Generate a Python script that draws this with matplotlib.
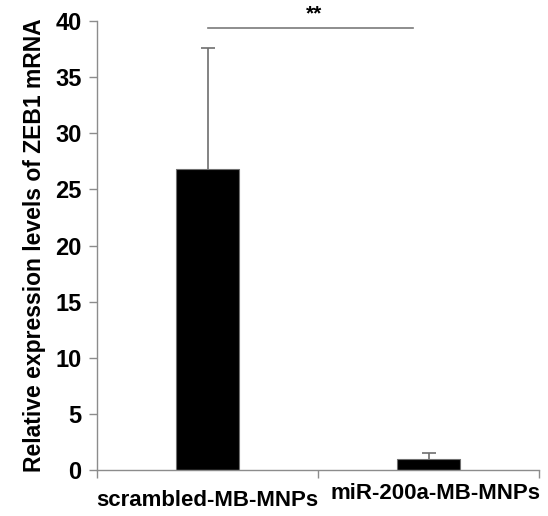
import matplotlib
matplotlib.use("Agg")
import matplotlib.pyplot as plt

categories = ["scrambled-MB-MNPs", "miR-200a-MB-MNPs"]
values = [26.8, 1.0]
errors = [10.8, 0.5]
yticks = [0, 5, 10, 15, 20, 25, 30, 35, 40]
sig_text = "**"
sig_y = 39.4

plt.rcParams['font.family'] = ['Liberation Sans', 'DejaVu Sans']
plt.rcParams['font.weight'] = 'bold'

fig = plt.figure(figsize=(5.48, 5.16), dpi=100)
ax = fig.add_axes([0.177, 0.0891, 0.8066, 0.8702])

x = list(range(len(categories)))
gray = '#8c8c8c'
ax.bar(x, values, width=0.285, color='black', edgecolor='#707070', linewidth=0.8, zorder=2)
eb = ax.errorbar(x, values, yerr=[[0]*len(errors), errors], fmt='none', ecolor='#6e6e6e',
                 elinewidth=1.2, capsize=5, capthick=1.2, zorder=3)
eb[1][0].set_visible(False)

ax.set_xlim(-0.5, 1.5)
ax.set_ylim(0, 40)
ax.set_yticks(yticks)
ax.set_yticklabels([str(t) for t in yticks], fontsize=17, fontweight='bold')
ax.set_xticks([-0.5, 0.5, 1.5])
ax.set_xticklabels([])
ax.tick_params(axis='y', direction='out', length=6, color=gray, width=1, pad=5)
ax.tick_params(axis='x', direction='out', length=6, color=gray, width=1)
for s in ['top', 'right']:
    ax.spines[s].set_visible(False)
for s in ['left', 'bottom']:
    ax.spines[s].set_color(gray)
    ax.spines[s].set_linewidth(1)

# category labels (staggered as in the reference)
ax.text(0, -2.75, categories[0], ha='center', va='center', fontsize=16, fontweight='bold',
        clip_on=False)
ax.text(1.03, -2.05, categories[1], ha='center', va='center', fontsize=16, fontweight='bold',
        clip_on=False)

ax.set_ylabel("Relative expression levels of ZEB1 mRNA", fontsize=16.5, fontweight='bold', labelpad=7)

# significance line
ax.plot([0, 0.928], [sig_y, sig_y], color='#7a7a7a', linewidth=1.2, clip_on=False)
ax.text(0.48, sig_y + 0.35, sig_text, ha='center', va='bottom', fontsize=15, fontweight='bold')

fig.savefig("out.png", dpi=100)
